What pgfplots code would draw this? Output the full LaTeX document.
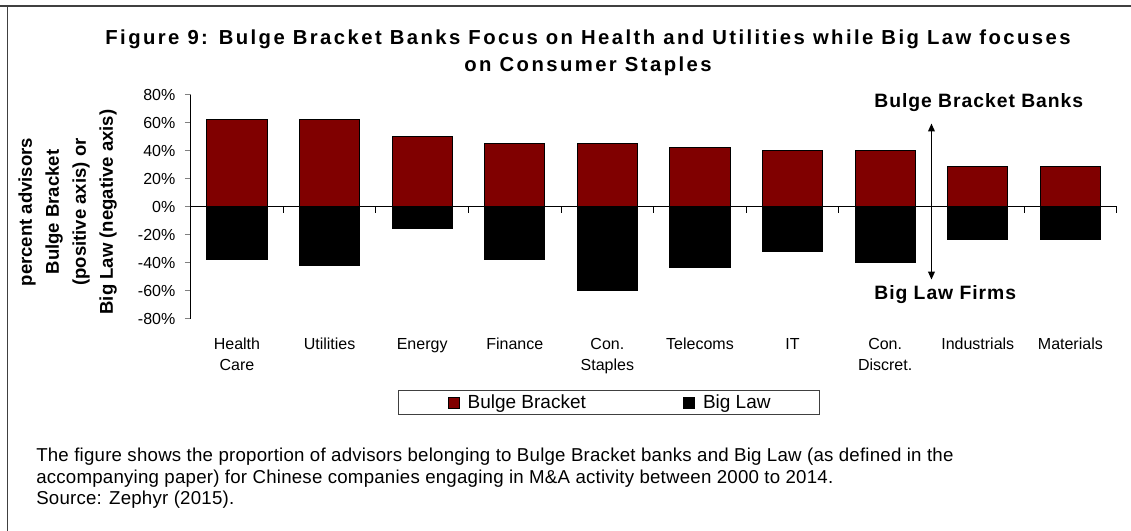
\documentclass[border=0pt]{standalone}
\usepackage{fontspec}
\setmainfont{Liberation Sans}
\newfontfamily\titlefont[LetterSpace=12]{Liberation Sans}
\newfontfamily\annfont[LetterSpace=5]{Liberation Sans}
\newfontfamily\capfont[LetterSpace=1.2]{Liberation Sans}
\usepackage{pgfplots}
\pgfplotsset{compat=1.18}
\usetikzlibrary{arrows.meta}
\definecolor{bbred}{HTML}{800000}
\definecolor{framegray}{HTML}{404040}

\pgfplotsset{
  sqlegend/.style={legend image code/.code={
    \draw[##1,draw=black,line width=0.6pt] (0pt,-4.1pt) rectangle (8.25pt,4.1pt);}},
}

\begin{document}
\begin{tikzpicture}
\useasboundingbox (0,0) rectangle (848.25pt,398.25pt);
% outer frame: top and left only
\draw[framegray,line width=1.5pt] (0,393.75pt) -- (848.25pt,393.75pt);
\draw[framegray,line width=0.75pt] (5.6pt,393.75pt) -- (5.6pt,0);

% title
\node[anchor=base,font=\titlefont\fontsize{15.2}{17}\selectfont\bfseries] at (441pt,364.5pt)
  {Figure 9: Bulge Bracket Banks Focus on Health and Utilities while Big Law focuses};
\node[anchor=base,font=\titlefont\fontsize{15.2}{17}\selectfont\bfseries] at (441pt,344.5pt)
  {on Consumer Staples};

\begin{axis}[
  at={(143pt,159pt)}, anchor=south west,
  scale only axis,
  width=694.5pt, height=168.2pt,
  xmin=-0.5, xmax=9.5,
  ymin=-80, ymax=80,
  axis y line*=left,
  axis x line*=bottom,
  x axis line style={draw=none},
  y axis line style={line width=0.75pt},
  xtick={0,...,9},
  xtick style={draw=none},
  xticklabels={{Health\\Care},Utilities,Energy,Finance,{Con.\\Staples},Telecoms,IT,{Con.\\Discret.},Industrials,Materials},
  xticklabel style={align=center,anchor=north,inner sep=0pt,yshift=-10pt,
    font=\fontsize{12}{15.75}\selectfont},
  ytick={-80,-60,...,80},
  yticklabel={\pgfmathprintnumber{\tick}\%},
  /pgf/number format/assume math mode=true,
  yticklabel style={anchor=east,inner sep=0pt,xshift=-7pt,font=\fontsize{12}{14}\selectfont},
  ytick style={line width=0.75pt},
  tick align=outside,
  major tick length=4.3pt,
  ylabel={percent advisors\\Bulge Bracket\\(positive axis) or\\Big Law (negative axis)},
  ylabel style={at={(axis description cs:-0.133,0.477)},anchor=center,align=center,
    font=\fontsize{13.9}{20.25}\selectfont\bfseries},
  clip=false,
  legend columns=2,
  legend style={at={(0.452,-0.373)},anchor=center,draw=framegray,line width=0.8pt,
    inner xsep=37pt,inner ysep=3pt,
    font=\fontsize{14.25}{17}\selectfont,
    nodes={inner sep=0pt},
    /tikz/every odd column/.append style={column sep=6pt},
    /tikz/every even column/.append style={column sep=73pt}},
]
\addplot[ybar,bar width=0.65,bar shift=0pt,fill=bbred,draw=black,line width=0.6pt,sqlegend]
  coordinates {(0,62.5) (1,62.5) (2,50) (3,45) (4,45.3) (5,42.6) (6,40) (7,40) (8,28.7) (9,28.7)};
\addlegendentry{Bulge Bracket}
\addplot[ybar,bar width=0.65,bar shift=0pt,fill=black,draw=black,line width=0.6pt,sqlegend]
  coordinates {(0,-37.2) (1,-42) (2,-15.6) (3,-37.2) (4,-59.5) (5,-43.4) (6,-32) (7,-39.7) (8,-23.3) (9,-23.3)};
\addlegendentry{Big Law}

% zero line with category boundary ticks
\draw[line width=0.75pt] (axis cs:-0.5,0) -- (axis cs:9.5,0);
\pgfplotsinvokeforeach{0.5,1.5,...,9.5}{\draw[line width=0.75pt] (axis cs:#1,0) -- ++(0pt,-4.3pt);}

% annotation
\draw[line width=1.1pt,{Triangle[length=6pt,width=5pt]}-{Triangle[length=6pt,width=5pt]}]
  (axis cs:7.5,59.5) -- (axis cs:7.5,-51.9);
\node[anchor=west,inner sep=0pt,font=\annfont\fontsize{14.5}{16}\selectfont\bfseries] at (axis cs:6.88,74.2) {Bulge Bracket Banks};
\node[anchor=west,inner sep=0pt,font=\annfont\fontsize{14.5}{16}\selectfont\bfseries] at (axis cs:6.88,-62.6) {Big Law Firms};
\end{axis}

% caption
\begin{scope}[every node/.style={anchor=base west,inner sep=0pt,font=\capfont\fontsize{14}{16}\selectfont}]
\node at (27pt,52pt) {The figure shows the proportion of advisors belonging to Bulge Bracket banks and Big Law (as defined in the};
\node at (27pt,35.8pt) {accompanying paper) for Chinese companies engaging in M\&A activity between 2000 to 2014.};
\node at (27pt,19.9pt) {Source: Zephyr (2015).};
\end{scope}
\end{tikzpicture}
\end{document}
